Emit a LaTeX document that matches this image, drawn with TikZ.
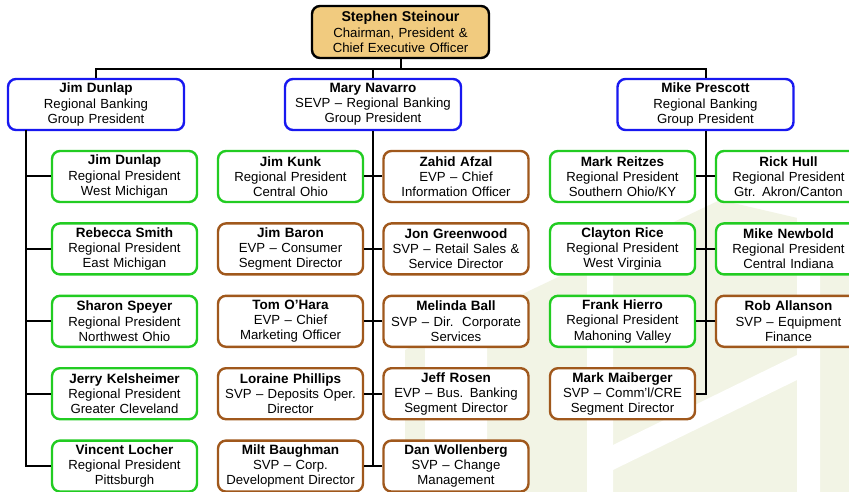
\documentclass[tikz,border=0pt]{standalone}
\usepackage{fontspec}
\setmainfont{Liberation Sans}
\definecolor{cgreen}{RGB}{34,204,34}
\definecolor{cbrown}{RGB}{160,88,28}
\definecolor{cblue}{RGB}{24,24,240}
\definecolor{ctan}{RGB}{241,203,127}
\definecolor{cwm}{RGB}{242,244,229}
\begin{document}
\begin{tikzpicture}[x=1pt,y=-1pt,
  box/.style={draw,rounded corners=8pt,line width=2.4pt,fill=white,align=center,
    minimum width=145pt,minimum height=51pt,inner sep=0pt,text width=145pt,
    font=\fontsize{13.2}{15.2}\selectfont},
  gbox/.style={box,draw=cgreen},
  bbox/.style={box,draw=cbrown},
  grpbox/.style={box,draw=cblue,minimum width=176pt,text width=176pt},
  topbox/.style={box,draw=black,fill=ctan,minimum width=177pt,text width=177pt,minimum height=52pt},
  conn/.style={draw=black,line width=2pt}]
\newcommand{\nmA}[1]{{\fontsize{13.5}{15.2}\selectfont\bfseries #1}}
\clip (0,0) rectangle (849,492);
\fill[white] (0,0) rectangle (849,492);
% watermark
\fill[cwm] (405,492) -- (405,350) -- (720,200) -- (849,230) -- (849,492) -- cycle;
\fill[white] (425,492) -- (425,345) -- (487,315) -- (487,492) -- cycle;
\fill[white] (587,492) -- (587,268) -- (613,256) -- (613,492) -- cycle;
\fill[white] (613,470) -- (797,380) -- (797,355) -- (613,445) -- cycle;
\fill[white] (797,492) -- (797,215) -- (820,221) -- (820,492) -- cycle;
% nodes
\node[topbox] (top) at (400.5,32) {{\fontsize{14.2}{15.2}\selectfont\bfseries Stephen Steinour}\\Chairman, President \&\\Chief Executive Officer};
\node[grpbox] (g1) at (96,104.5) {\nmA{Jim Dunlap}\\Regional Banking\\Group President};
\node[grpbox] (g2) at (373,104.5) {\nmA{Mary Navarro}\\SEVP -- Regional Banking\\Group President};
\node[grpbox] (g3) at (705.5,104.5) {\nmA{Mike Prescott}\\Regional Banking\\Group President};
% column A
\node[gbox] (a1) at (124.5,176.5) {\nmA{Jim Dunlap}\\Regional President\\West Michigan};
\node[gbox] (a2) at (124.5,248.9) {\nmA{Rebecca Smith}\\Regional President\\East Michigan};
\node[gbox] (a3) at (124.5,321.3) {\nmA{Sharon Speyer}\\Regional President\\Northwest Ohio};
\node[gbox] (a4) at (124.5,393.7) {\nmA{Jerry Kelsheimer}\\Regional President\\Greater Cleveland};
\node[gbox] (a5) at (124.5,466.1) {\nmA{Vincent Locher}\\Regional President\\Pittsburgh};
% column B
\node[gbox] (b1) at (290.5,176.5) {\nmA{Jim Kunk}\\Regional President\\Central Ohio};
\node[bbox] (b2) at (290.5,248.9) {\nmA{Jim Baron}\\EVP -- Consumer\\Segment Director};
\node[bbox] (b3) at (290.5,321.3) {\nmA{Tom O’Hara}\\EVP -- Chief\\Marketing Officer};
\node[bbox] (b4) at (290.5,393.7) {\nmA{Loraine Phillips}\\SVP -- Deposits Oper.\\Director};
\node[bbox] (b5) at (290.5,466.1) {\nmA{Milt Baughman}\\SVP -- Corp.\\Development Director};
% column C
\node[bbox] (c1) at (456,176.5) {\nmA{Zahid Afzal}\\EVP -- Chief\\Information Officer};
\node[bbox] (c2) at (456,248.9) {\nmA{Jon Greenwood}\\SVP -- Retail Sales \&\\Service Director};
\node[bbox] (c3) at (456,321.3) {\nmA{Melinda Ball}\\SVP -- Dir.\ \ Corporate\\Services};
\node[bbox] (c4) at (456,393.7) {\nmA{Jeff Rosen}\\EVP -- Bus. Banking\\Segment Director};
\node[bbox] (c5) at (456,466.1) {\nmA{Dan Wollenberg}\\SVP -- Change\\Management};
% column D
\node[gbox] (d1) at (622.5,176.5) {\nmA{Mark Reitzes}\\Regional President\\Southern Ohio/KY};
\node[gbox] (d2) at (622.5,248.9) {\nmA{Clayton Rice}\\Regional President\\West Virginia};
\node[gbox] (d3) at (622.5,321.3) {\nmA{Frank Hierro}\\Regional President\\Mahoning Valley};
\node[bbox] (d4) at (622.5,393.7) {\nmA{Mark Maiberger}\\SVP -- Comm’l/CRE\\Segment Director};
% column E
\node[gbox] (e1) at (788.5,176.5) {\nmA{Rick Hull}\\Regional President\\Gtr. Akron/Canton};
\node[gbox] (e2) at (788.5,248.9) {\nmA{Mike Newbold}\\Regional President\\Central Indiana};
\node[bbox] (e3) at (788.5,321.3) {\nmA{Rob Allanson}\\SVP -- Equipment\\Finance};
% connectors
\coordinate (bus) at (400.5,69);
\coordinate (t1) at (26,130);
\draw[conn] (top.south) -- (top.south |- bus);
\draw[conn] (g1.north) -- (g1.north |- bus) -| (g3.north);
\draw[conn] (g2.north) -- (g2.north |- bus);
\draw[conn] (t1) |- (a5.west);
\foreach \i in {1,2,3,4} \draw[conn] (a\i.west) -- (a\i.west -| t1);
\draw[conn] (g2.south) -- (g2.south |- b5.east);
\foreach \i in {1,2,3,4,5} \draw[conn] (b\i.east) -- (c\i.west);
\draw[conn] (g3.south) |- (d4.east);
\foreach \i in {1,2,3} \draw[conn] (d\i.east) -- (e\i.west);
\end{tikzpicture}
\end{document}
